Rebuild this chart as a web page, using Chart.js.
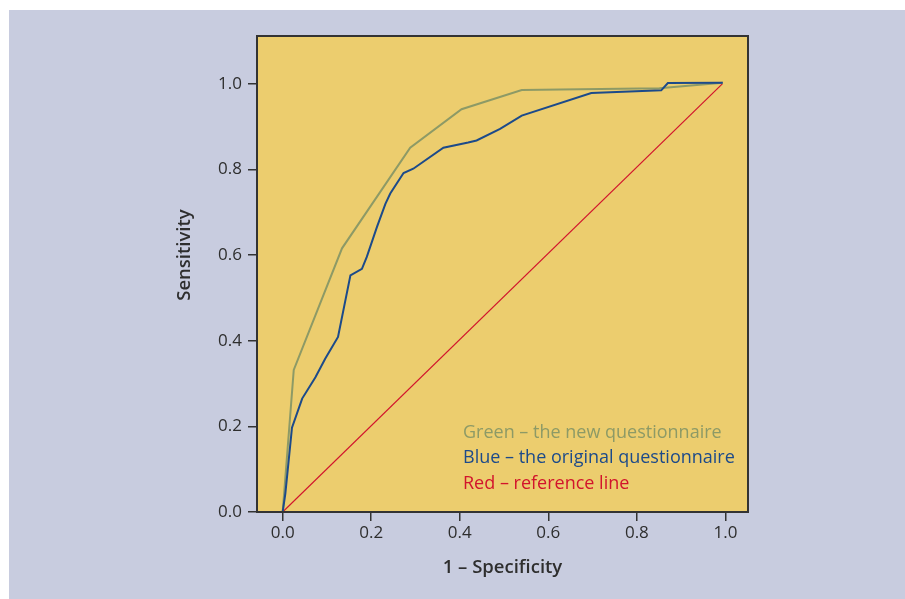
<!DOCTYPE html>
<html><head><meta charset="utf-8">
<script src="https://cdn.jsdelivr.net/npm/chart.js@4"></script>
<style>html,body{margin:0;padding:0;background:#fff;}canvas{display:block}</style>
</head><body>
<canvas id="c" width="905" height="599"></canvas>
<script>
const xTicks = [0, 0.2, 0.4, 0.6, 0.8, 1.0];
const yTicks = [0, 0.2, 0.4, 0.6, 0.8, 1.0];
const seriesLabels = ['Green – the new questionnaire', 'Blue – the original questionnaire', 'Red – reference line'];
const xTitle = '1 – Specificity';
const yTitle = 'Sensitivity';

const greenX = [0, 0.025, 0.134, 0.288, 0.404, 0.540, 0.851, 0.994];
const greenY = [0, 0.332, 0.616, 0.851, 0.941, 0.986, 0.990, 1.003];

const blueX = [0, 0.006, 0.021, 0.044, 0.074, 0.096, 0.125, 0.153, 0.179, 0.190, 0.213, 0.232, 0.243, 0.273, 0.295, 0.363, 0.419, 0.438, 0.491, 0.540, 0.697, 0.855, 0.870, 0.994];
const blueY = [0, 0.043, 0.197, 0.265, 0.315, 0.358, 0.409, 0.553, 0.568, 0.596, 0.666, 0.720, 0.744, 0.792, 0.802, 0.851, 0.863, 0.868, 0.895, 0.926, 0.979, 0.985, 1.002, 1.003];

const redX = [0, 0.993];
const redY = [0, 1.0];

const GREEN = '#8d9a66', BLUE = '#1c4a8a', RED = '#d2142c';
const TEXT = '#2e2e2e';
const FONT = "'Open Sans', 'Noto Sans', sans-serif";

const pts = (xs, ys) => xs.map((x, i) => ({x, y: ys[i]}));

const bgPlugin = {
  id: 'bg',
  beforeDraw(chart) {
    const {ctx, chartArea: a} = chart;
    ctx.save();
    ctx.fillStyle = '#ffffff';
    ctx.fillRect(0, 0, chart.width, chart.height);
    ctx.fillStyle = '#c8ccdf';
    ctx.fillRect(9, 10, chart.width - 9, chart.height - 10);
    ctx.fillStyle = '#eccd6e';
    ctx.fillRect(a.left, a.top, a.right - a.left, a.bottom - a.top);
    ctx.restore();
  },
  afterDraw(chart) {
    const {ctx, chartArea: a} = chart;
    ctx.save();
    ctx.strokeStyle = '#333333';
    ctx.lineWidth = 2;
    ctx.strokeRect(a.left, a.top, a.right - a.left, a.bottom - a.top);
    // legend
    ctx.font = "18px " + FONT;
    ctx.textBaseline = 'middle';
    ctx.textAlign = 'left';
    chart.data.datasets.forEach((ds, i) => {
      ctx.fillStyle = ds.borderColor;
      ctx.fillText(ds.label, 463, 433 + i * 25.3);
    });
    // axis titles
    ctx.fillStyle = TEXT;
    ctx.font = "600 18.5px " + FONT;
    ctx.textAlign = 'center';
    ctx.fillText(xTitle, (a.left + a.right) / 2, 568);
    ctx.translate(185, 255);
    ctx.rotate(-Math.PI / 2);
    ctx.fillText(yTitle, 0, 0);
    ctx.restore();
  }
};

new Chart(document.getElementById('c'), {
  type: 'scatter',
  data: {
    datasets: [
      {label: seriesLabels[0], data: pts(greenX, greenY), borderColor: GREEN, backgroundColor: GREEN, borderWidth: 2, showLine: true, pointRadius: 0, tension: 0, order: 1},
      {label: seriesLabels[1], data: pts(blueX, blueY), borderColor: BLUE, backgroundColor: BLUE, borderWidth: 2, showLine: true, pointRadius: 0, tension: 0, order: 0},
      {label: seriesLabels[2], data: pts(redX, redY), borderColor: RED, backgroundColor: RED, borderWidth: 1.2, showLine: true, pointRadius: 0, tension: 0, order: 2}
    ]
  },
  options: {
    responsive: false,
    animation: false,
    devicePixelRatio: 1,
    layout: {padding: {top: 36, right: 157, bottom: 0, left: 0}},
    plugins: {legend: {display: false}, tooltip: {enabled: false}},
    scales: {
      x: {
        type: 'linear', min: -0.058, max: 1.051,
        afterBuildTicks: s => { s.ticks = xTicks.map(v => ({value: v})); },
        afterFit: s => { s.height = 87; },
        ticks: {callback: v => v.toFixed(1), color: TEXT, font: {family: FONT, size: 17}, padding: 2},
        grid: {drawOnChartArea: false, drawTicks: true, tickLength: 9, color: '#333', lineWidth: 1.5},
        border: {display: false},
        title: {display: false}
      },
      y: {
        type: 'linear', min: 0, max: 1.112,
        afterBuildTicks: s => { s.ticks = yTicks.map(v => ({value: v})); },
        afterFit: s => { s.width = 257; },
        ticks: {callback: v => v.toFixed(1), color: TEXT, font: {family: FONT, size: 17}, padding: 6},
        grid: {drawOnChartArea: false, drawTicks: true, tickLength: 9, color: '#333', lineWidth: 1.5},
        border: {display: false},
        title: {display: false}
      }
    }
  },
  plugins: [bgPlugin]
});
</script>
</body></html>
